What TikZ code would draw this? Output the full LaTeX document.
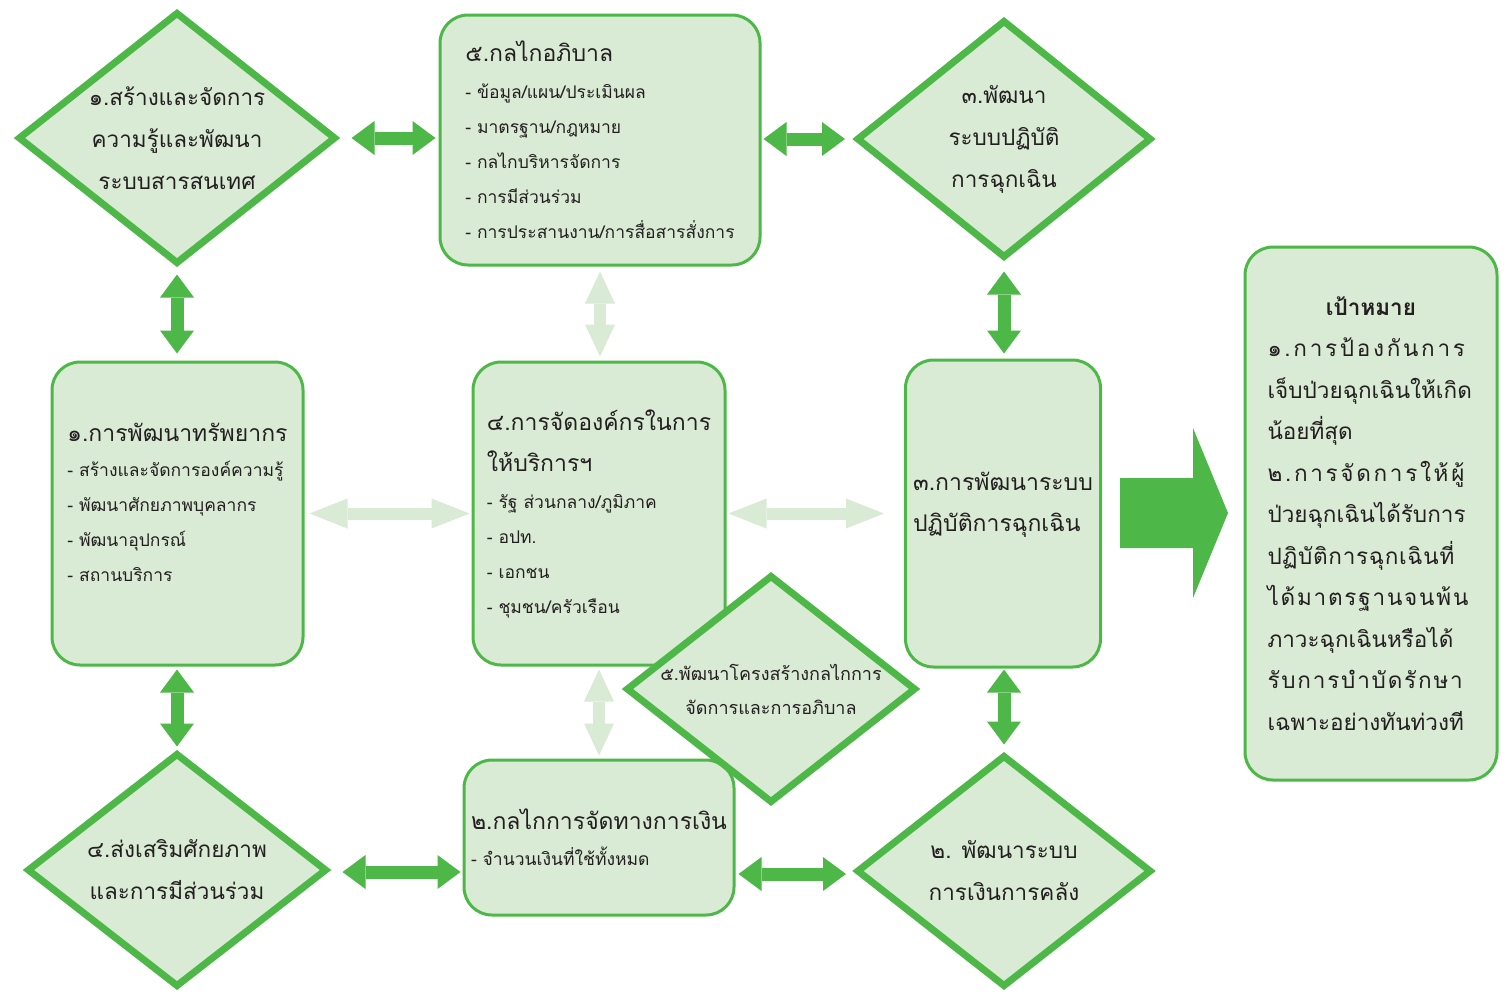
\documentclass[tikz,border=0pt]{standalone}
\usepackage{fontspec}
\setmainfont[Script=Thai]{Loma}
\usetikzlibrary{positioning,shapes.geometric,arrows.meta}
\definecolor{framegreen}{RGB}{77,184,72}
\definecolor{fillgreen}{RGB}{218,235,213}
\definecolor{inkgray}{RGB}{35,31,32}
\newcommand{\boxheadsize}{\fontsize{23}{35}\selectfont}

\begin{document}
\begin{tikzpicture}[
    x=1pt, y=-1pt,
    box/.style={rectangle, draw=framegreen, line width=3pt, fill=fillgreen, rounded corners=28pt, align=left, text=inkgray, inner sep=0pt, font=\fontsize{17.5}{35}\selectfont},
    decision/.style={diamond, draw=framegreen, line width=7pt, fill=fillgreen, align=center, text=inkgray, inner xsep=-50pt, inner ysep=-30pt, font=\fontsize{22.5}{42}\selectfont},
    strongarrow/.style={line width=13pt, draw=framegreen, {Triangle[length=23pt,width=34pt,line width=0pt]}-{Triangle[length=23pt,width=34pt,line width=0pt]}},
    softarrow/.style={line width=12pt, draw=fillgreen, {Triangle[length=#1,width=30pt,line width=0pt]}-{Triangle[length=#1,width=30pt,line width=0pt]}},
    softarrow/.default=38pt
]
\useasboundingbox[fill=white] (0,0) rectangle (1506,994);

% Boxes
\node[box, minimum width=320pt, minimum height=250pt] (governance) at (600,140) {
    {\boxheadsize ๕.กลไกอภิบาล}\\[2pt]
    - ข้อมูล/แผน/ประเมินผล\\
    - มาตรฐาน/กฎหมาย\\
    - กลไกบริหารจัดการ\\
    - การมีส่วนร่วม\\
    - การประสานงาน/การสื่อสารสั่งการ
};
\node[box, minimum width=251pt, minimum height=303pt] (resource) at (177.5,513.5) {
    {\boxheadsize ๑.การพัฒนาทรัพยากร}\\
    - สร้างและจัดการองค์ความรู้\\
    - พัฒนาศักยภาพบุคลากร\\
    - พัฒนาอุปกรณ์\\
    - สถานบริการ\\[-12pt]
};
\node[box, minimum width=252pt, minimum height=303pt] (organize) at (599,513.5) {
    {\boxheadsize ๔.การจัดองค์กรในการ}\\[6pt]
    {\boxheadsize ให้บริการฯ}\\[2pt]
    - รัฐ ส่วนกลาง/ภูมิภาค\\
    - อปท.\\
    - เอกชน\\
    - ชุมชน/ครัวเรือน
};
\node[box, minimum width=195pt, minimum height=307pt, font=\fontsize{23}{41}\selectfont] (operation) at (1003,513.5) {
    ๓.การพัฒนาระบบ\\
    ปฏิบัติการฉุกเฉิน\\[-18pt]
};
\node[box, minimum width=270pt, minimum height=155pt] (finance) at (599,837.5) {
    {\boxheadsize ๒.กลไกการจัดทางการเงิน}\\[1pt]
    - จำนวนเงินที่ใช้ทั้งหมด
};
\node[box, minimum width=252pt, minimum height=533pt, text width=207pt, font=\fontsize{22.5}{41.5}\selectfont] (goal) at (1371,513.5) {
    \makebox[\linewidth][c]{\textbf{เป้าหมาย}}\\
    {\addfontfeature{LetterSpace=12}๑.การป้องกันการ}\\
    เจ็บป่วยฉุกเฉินให้เกิด\\
    น้อยที่สุด\\
    {\addfontfeature{LetterSpace=12}๒.การจัดการให้ผู้}\\
    ป่วยฉุกเฉินได้รับการ\\
    {\addfontfeature{LetterSpace=3}ปฏิบัติการฉุกเฉินที่}\\
    {\addfontfeature{LetterSpace=8}ได้มาตรฐานจนพ้น}\\
    ภาวะฉุกเฉินหรือได้\\
    {\addfontfeature{LetterSpace=8}รับการบำบัดรักษา}\\
    เฉพาะอย่างทันท่วงที
};

% Diamonds
\node[decision, minimum width=318pt, minimum height=252pt] (knowledge_dia) at (177,138) {๑.สร้างและจัดการ\\ความรู้และพัฒนา\\ระบบสารสนเทศ};
\node[decision, minimum width=295pt, minimum height=238pt] (emergency_dia) at (1004,139) {๓.พัฒนา\\ระบบปฏิบัติ\\การฉุกเฉิน};
\node[decision, minimum width=300pt, minimum height=234pt] (participation_dia) at (177,870) {๔.ส่งเสริมศักยภาพ\\และการมีส่วนร่วม};
\node[decision, minimum width=295pt, minimum height=232pt] (fiscal_dia) at (1004,871) {๒. พัฒนาระบบ\\การเงินการคลัง};
\node[decision, minimum width=290pt, minimum height=228pt, font=\fontsize{18}{34}\selectfont] (structure_dia) at (771,689) {๕.พัฒนาโครงสร้างกลไกการ\\จัดการและการอภิบาล};

% Strong two-way arrows
\draw[strongarrow, shorten <=12pt, shorten >=3pt] (knowledge_dia) -- (knowledge_dia -| governance.west);
\draw[strongarrow, shorten <=2pt, shorten >=8pt] (governance.east |- emergency_dia) -- (emergency_dia);
\draw[strongarrow, shorten <=7pt, shorten >=7pt] (knowledge_dia) -- (knowledge_dia |- resource.north);
\draw[strongarrow, shorten <=10pt, shorten >=5pt] (emergency_dia) -- (emergency_dia |- operation.north);
\draw[strongarrow, shorten <=3pt, shorten >=3pt] (resource.south -| participation_dia) -- (participation_dia.north);
\draw[strongarrow, shorten <=1pt, shorten >=7pt] (operation.south -| fiscal_dia) -- (fiscal_dia.north);
\draw[strongarrow, shorten <=12pt, shorten >=2pt] ([yshift=-2pt]participation_dia.east) -- ([yshift=-2pt]participation_dia.east -| finance.west);
\draw[strongarrow, shorten <=3pt, shorten >=7pt] ([yshift=-3pt]finance.east |- fiscal_dia.west) -- ([yshift=-3pt]fiscal_dia.west);

% Soft two-way arrows
\draw[softarrow, shorten <=5pt, shorten >=2pt] (resource) -- (organize);
\draw[softarrow, shorten <=2pt, shorten >=20pt] (organize) -- (operation);
\draw[softarrow=32pt, shorten <=5pt, shorten >=4pt] (governance) -- (governance |- organize.north);
\draw[softarrow=32pt, shorten <=3pt, shorten >=3pt] (organize) -- (organize |- finance.north);

% Arrow to goal
\fill[framegreen] (1120,478) -- (1193,478) -- (1193,428) -- (1228,513) -- (1193,598) -- (1193,548) -- (1120,548) -- cycle;

\end{tikzpicture}
\end{document}
